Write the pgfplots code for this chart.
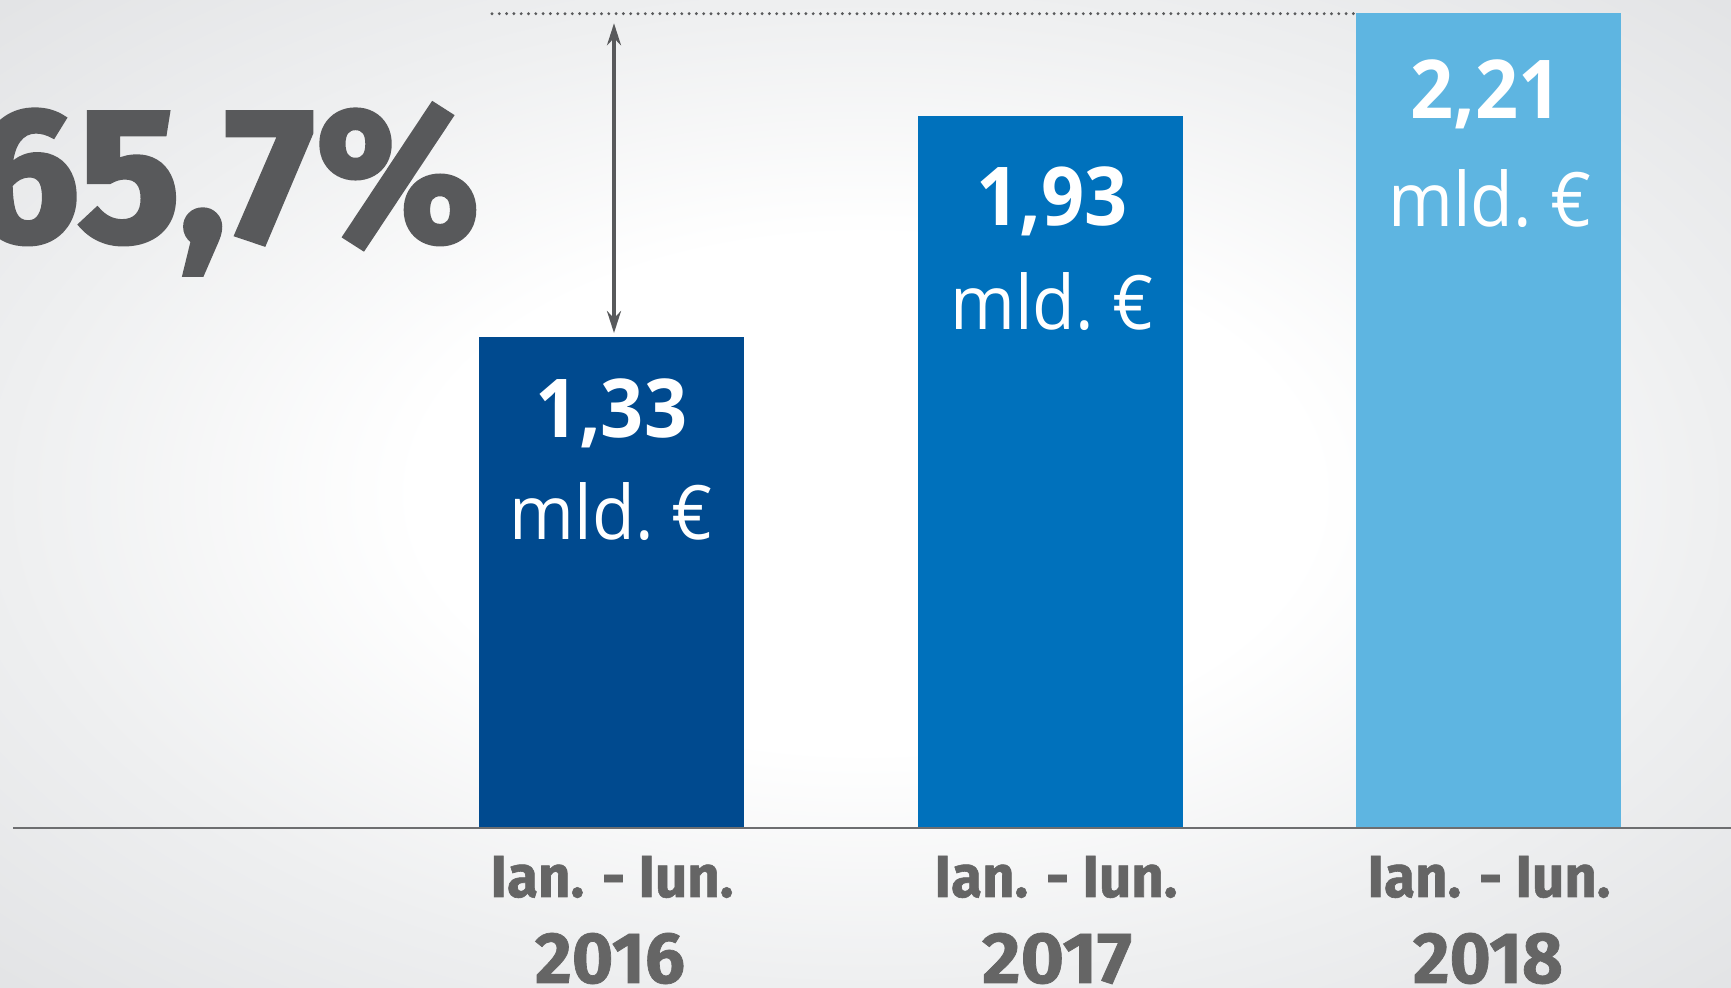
\documentclass[border=0pt]{standalone}
\usepackage{pgfplots}
\pgfplotsset{compat=1.18}
\usepackage{graphicx}
\usepackage{fontspec}
\usetikzlibrary{arrows.meta}
\setmainfont{Open Sans}
\newfontfamily\bigfont{Fira Sans}[BoldFeatures={FakeBold=2.5}]
\newfontfamily\catfont{Fira Sans}[BoldFeatures={FakeBold=1}]
\definecolor{barA}{HTML}{004A8F}
\definecolor{barB}{HTML}{0071BC}
\definecolor{barC}{HTML}{5EB5E1}
\definecolor{bigtxt}{HTML}{58595B}
\definecolor{cattxt}{HTML}{656565}
\definecolor{axline}{HTML}{6D6E70}
\definecolor{bgmid}{HTML}{EEEFF0}
\definecolor{bgcorner}{HTML}{E2E3E5}
\pgfdeclareradialshading{bgshade}{\pgfpoint{0bp}{0bp}}{color(0bp)=(white); color(13bp)=(white); color(25bp)=(bgmid); color(36bp)=(bgcorner); color(50bp)=(bgcorner)}
\newcommand{\numlab}[1]{\scalebox{0.93}[1]{\bfseries\fontsize{40.6}{40.6}\selectfont #1}}
\newcommand{\unitlab}{\scalebox{0.93}[1]{\fontsize{37.5}{37.5}\selectfont mld.\ €}}
\newcommand{\catlab}{\resizebox{121.5pt}{20.5pt}{\catfont\bfseries Ian. - Iun.}}
\newcommand{\yearlab}[1]{\resizebox{75pt}{25pt}{\catfont\bfseries #1}}
\begin{document}
\begin{tikzpicture}
\path[use as bounding box] (0,0) rectangle (865.5pt,493.5pt);
\clip (0,0) rectangle (865.5pt,493.5pt);
\shade[shading=bgshade] (0,0) rectangle (865.5pt,493.5pt);
\begin{axis}[
  at={(0,0)}, anchor=south west,
  width=865.5pt, height=493.5pt, scale only axis,
  xmin=0, xmax=1731, ymin=-0.4311, ymax=2.2451,
  hide axis, clip=false,
]
\addplot[ybar, bar width=265, bar shift=0pt, fill=barA, draw=none] coordinates {(611.5,1.33)};
\addplot[ybar, bar width=265, bar shift=0pt, fill=barB, draw=none] coordinates {(1050,1.93)};
\addplot[ybar, bar width=265, bar shift=0pt, fill=barC, draw=none] coordinates {(1488.5,2.21)};
% baseline
\draw[axline, line width=1.1pt] (axis cs:13,0) -- (axis cs:1731,0);
% dotted reference line
\draw[bigtxt, line width=1.6pt, line cap=round, dash pattern=on 0pt off 3.65pt] (axis cs:492,2.208) -- (axis cs:1356,2.208);
% arrow
\draw[bigtxt, line width=1.6pt, {Stealth[length=11pt,width=7pt]}-{Stealth[length=11pt,width=7pt]}] (axis cs:614,2.182) -- (axis cs:614,1.342);
% big percentage
\node[anchor=base east, inner sep=0pt, text=bigtxt] at (axis cs:480,1.592) {\bigfont\bfseries\fontsize{95}{95}\selectfont 65,7\%};
% value labels
\node[anchor=base, inner sep=0pt, text=white] at (axis cs:611.5,1.060) {\numlab{1,33}};
\node[anchor=base, inner sep=0pt, text=white] at (axis cs:611.5,0.782) {\unitlab};
\node[anchor=base, inner sep=0pt, text=white] at (axis cs:1052,1.633) {\numlab{1,93}};
\node[anchor=base, inner sep=0pt, text=white] at (axis cs:1052,1.352) {\unitlab};
\node[anchor=base, inner sep=0pt, text=white] at (axis cs:1486,1.925) {\numlab{2,21}};
\node[anchor=base, inner sep=0pt, text=white] at (axis cs:1490,1.630) {\unitlab};
% category labels
\node[anchor=base, inner sep=0pt, text=cattxt] at (axis cs:612,-0.187) {\catlab};
\node[anchor=base, inner sep=0pt, text=cattxt] at (axis cs:1056,-0.187) {\catlab};
\node[anchor=base, inner sep=0pt, text=cattxt] at (axis cs:1489,-0.187) {\catlab};
\node[anchor=base, inner sep=0pt, text=cattxt] at (axis cs:610,-0.420) {\yearlab{2016}};
\node[anchor=base, inner sep=0pt, text=cattxt] at (axis cs:1057,-0.420) {\yearlab{2017}};
\node[anchor=base, inner sep=0pt, text=cattxt] at (axis cs:1488,-0.420) {\yearlab{2018}};
\end{axis}
\end{tikzpicture}
\end{document}
